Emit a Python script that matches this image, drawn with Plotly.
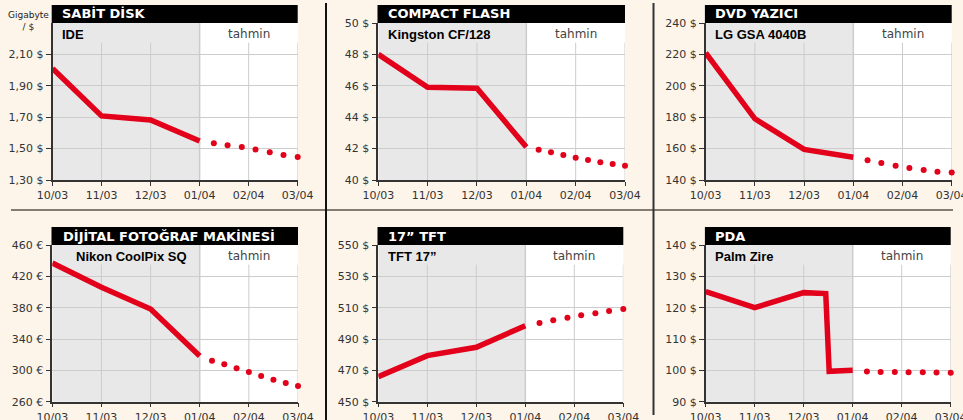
import plotly.graph_objects as go

W, H = 963, 420

months = ["10/03", "11/03", "12/03", "01/04", "02/04", "03/04"]
month_pos = [0, 1, 2, 3, 4, 5]

# actual values (10/03 .. 01/04) and forecast dots
hdd_x = [0, 1, 2, 3]
hdd_actual = [2.01, 1.708, 1.682, 1.548]
hdd_fx = [3.29, 3.57, 3.86, 4.14, 4.43, 4.71, 5.0]
hdd_forecast = [1.534, 1.521, 1.51, 1.495, 1.476, 1.459, 1.446]

cf_x = [0, 1, 2, 3]
cf_actual = [48.0, 45.9, 45.85, 42.1]
cf_fx = [3.25, 3.5, 3.75, 4.0, 4.25, 4.5, 4.75, 5.0]
cf_forecast = [41.93, 41.77, 41.6, 41.42, 41.28, 41.13, 41.02, 40.91]

dvd_x = [0, 1, 2, 3]
dvd_actual = [221, 179, 159.5, 154.5]
dvd_fx = [3.29, 3.57, 3.86, 4.14, 4.43, 4.71, 5.0]
dvd_forecast = [152.6, 150.9, 149.1, 147.7, 146.4, 145.3, 144.7]

cam_x = [0, 1, 2, 3]
cam_actual = [437, 406, 378.3, 318.3]
cam_fx = [3.25, 3.5, 3.75, 4.0, 4.25, 4.5, 4.75, 5.0]
cam_forecast = [312.3, 307.7, 302.6, 297.9, 292.8, 288.1, 283.9, 280.0]

tft_x = [0, 1, 2, 3]
tft_actual = [466, 479.4, 484.7, 498.5]
tft_fx = [3.29, 3.57, 3.86, 4.14, 4.43, 4.71, 5.0]
tft_forecast = [500.2, 501.9, 503.6, 505.1, 506.4, 507.9, 509.2]

pda_x = [0, 1, 2, 2.45, 2.52, 3]
pda_actual = [125.1, 120, 124.8, 124.5, 99.7, 100]
pda_fx = [3.29, 3.57, 3.86, 4.14, 4.43, 4.71, 5.0]
pda_forecast = [99.6, 99.5, 99.5, 99.4, 99.4, 99.3, 99.2]

titles = ["SABİT DİSK", "COMPACT FLASH", "DVD YAZICI",
          "DİJİTAL FOTOĞRAF MAKİNESİ", "17” TFT", "PDA"]
subtitles = ["IDE", "Kingston CF/128", "LG GSA 4040B",
             "Nikon CoolPix SQ", "TFT 17”", "Palm Zire"]
forecast_label = "tahmin"
unit_label = "Gigabyte<br>/ $"

y_ranges = [[1.3, 2.3], [40, 50], [140, 240], [260, 460], [450, 550], [90, 140]]
y_ticks = [
    [1.3, 1.5, 1.7, 1.9, 2.1],
    [40, 42, 44, 46, 48, 50],
    [140, 160, 180, 200, 220, 240],
    [260, 300, 340, 380, 420, 460],
    [450, 470, 490, 510, 530, 550],
    [90, 100, 110, 120, 130, 140],
]
y_ticktext = [
    ["1,30 $", "1,50 $", "1,70 $", "1,90 $", "2,10 $"],
    ["40 $", "42 $", "44 $", "46 $", "48 $", "50 $"],
    ["140 $", "160 $", "180 $", "200 $", "220 $", "240 $"],
    ["260 €", "300 €", "340 €", "380 €", "420 €", "460 €"],
    ["450 $", "470 $", "490 $", "510 $", "530 $", "550 $"],
    ["90 $", "100 $", "110 $", "120 $", "130 $", "140 $"],
]

series = [
    (hdd_x, hdd_actual, hdd_fx, hdd_forecast),
    (cf_x, cf_actual, cf_fx, cf_forecast),
    (dvd_x, dvd_actual, dvd_fx, dvd_forecast),
    (cam_x, cam_actual, cam_fx, cam_forecast),
    (tft_x, tft_actual, tft_fx, tft_forecast),
    (pda_x, pda_actual, pda_fx, pda_forecast),
]

# layout geometry (pixels)
x_px = [(52.5, 297.7), (378.3, 625.0), (705.7, 951.7),
        (52.3, 298.0), (378.3, 623.3), (705.7, 950.7)]
row_px = [(23.0, 180.0), (245.0, 401.7)]
title_left = [60, 386, 713, 61, 386, 713]
sub_left = [60, 385.7, 713.3, 74, 386, 713.3]

RED = "#e2001a"
BG = "#fdf5ea"
GRID = "#cccccc"
AXC = "#333333"
TICKFONT = dict(family="DejaVu Sans, Verdana, sans-serif", size=11, color="#333333")
TITLEFONT = dict(family="DejaVu Sans, Verdana, sans-serif", size=13, color="white", weight="bold")
SUBFONT = dict(family="Liberation Sans, Arial, sans-serif", size=13, color="black", weight="bold")


def px_x(v):
    return v / W


def px_y(v):
    return 1 - v / H


fig = go.Figure()
shapes = []
annotations = []

for i in range(6):
    n = i + 1
    xa = "x" if n == 1 else f"x{n}"
    ya = "y" if n == 1 else f"y{n}"
    row = 0 if i < 3 else 1
    top, bot = row_px[row]
    x0, x1 = x_px[i]
    sx, sy, fx, fy = series[i]

    fig.add_trace(go.Scatter(x=sx, y=sy, mode="lines", xaxis=xa, yaxis=ya,
                             line=dict(color=RED, width=5.5), cliponaxis=False,
                             showlegend=False, hoverinfo="skip"))
    fig.add_trace(go.Scatter(x=fx, y=fy, mode="markers", xaxis=xa, yaxis=ya,
                             marker=dict(color=RED, size=6), cliponaxis=False,
                             showlegend=False, hoverinfo="skip"))

    fig.update_layout(**{
        ("xaxis" if n == 1 else f"xaxis{n}"): dict(
            domain=[px_x(x0), px_x(x1)], range=[0, 5], anchor=ya, automargin=False,
            ticklabeloverflow="allow",
            tickvals=month_pos, ticktext=months, showgrid=False, zeroline=False,
            showline=True, linecolor=AXC, linewidth=1.5, ticks="outside",
            ticklen=4, tickcolor=AXC, tickfont=TICKFONT, fixedrange=True),
        ("yaxis" if n == 1 else f"yaxis{n}"): dict(
            domain=[px_y(bot), px_y(top)], range=y_ranges[i], anchor=xa, automargin=False,
            ticklabeloverflow="allow",
            tickvals=y_ticks[i], ticktext=y_ticktext[i], showgrid=True,
            gridcolor=GRID, gridwidth=1, zeroline=False, showline=True,
            linecolor=AXC, linewidth=1.5, ticks="outside", ticklen=5,
            tickcolor=AXC, tickfont=TICKFONT, fixedrange=True),
    })

    # shaded "actual" region
    shapes.append(dict(type="rect", xref=xa, yref=f"{ya} domain", x0=0, x1=3, y0=0, y1=1,
                       fillcolor="#e8e8e8", line=dict(width=0), layer="below"))
    # vertical grid lines
    for gx in [1, 2, 4, 5]:
        shapes.append(dict(type="line", xref=xa, yref=f"{ya} domain", x0=gx, x1=gx,
                           y0=0, y1=0.875, line=dict(color=GRID, width=1), layer="below"))
    shapes.append(dict(type="line", xref=xa, yref=f"{ya} domain", x0=3, x1=3,
                       y0=0, y1=1, line=dict(color=GRID, width=1.5), layer="below"))
    # black header bar
    shapes.append(dict(type="rect", xref="paper", yref="paper",
                       x0=px_x(x0 - 0.8), x1=px_x(x1), y0=px_y(top), y1=px_y(top - 18),
                       fillcolor="black", line=dict(width=0), layer="above"))
    annotations.append(dict(text=titles[i], xref="paper", yref="paper",
                            x=px_x(title_left[i]), y=px_y(top - 9), xanchor="left",
                            yanchor="middle", showarrow=False, font=TITLEFONT))
    annotations.append(dict(text=subtitles[i], xref="paper", yref="paper",
                            x=px_x(sub_left[i]), y=px_y(top + 11), xanchor="left",
                            yanchor="middle", showarrow=False, font=SUBFONT))
    annotations.append(dict(text=forecast_label, xref=xa, yref="paper",
                            x=4, y=px_y(top + 11), xanchor="center",
                            yanchor="middle", showarrow=False,
                            font=dict(family="DejaVu Sans, sans-serif", size=12, color="#444444")))

annotations.append(dict(text=unit_label, xref="paper", yref="paper",
                        x=px_x(28), y=px_y(21), xanchor="center", yanchor="middle",
                        showarrow=False, align="center",
                        font=dict(family="DejaVu Sans, sans-serif", size=9, color="#222222")))

# panel separators
shapes.append(dict(type="line", xref="paper", yref="paper", x0=px_x(11), x1=px_x(953),
                   y0=px_y(210), y1=px_y(210), line=dict(color="#857b73", width=2)))
shapes.append(dict(type="line", xref="paper", yref="paper", x0=px_x(326), x1=px_x(326),
                   y0=px_y(3), y1=px_y(420), line=dict(color="#111111", width=2)))
shapes.append(dict(type="line", xref="paper", yref="paper", x0=px_x(653.5), x1=px_x(653.5),
                   y0=px_y(3), y1=px_y(415), line=dict(color="#333333", width=2)))

fig.update_layout(width=W, height=H, margin=dict(l=0, r=0, t=0, b=0),
                  paper_bgcolor=BG, plot_bgcolor="white",
                  shapes=shapes, annotations=annotations, showlegend=False)

page_fix = ("document.body.style.margin='0';document.body.style.padding='0';"
            "document.body.style.overflow='hidden';"
            "document.body.style.background='" + BG + "';")

fig.write_html("out.html", config={"displayModeBar": False}, post_script=page_fix)
